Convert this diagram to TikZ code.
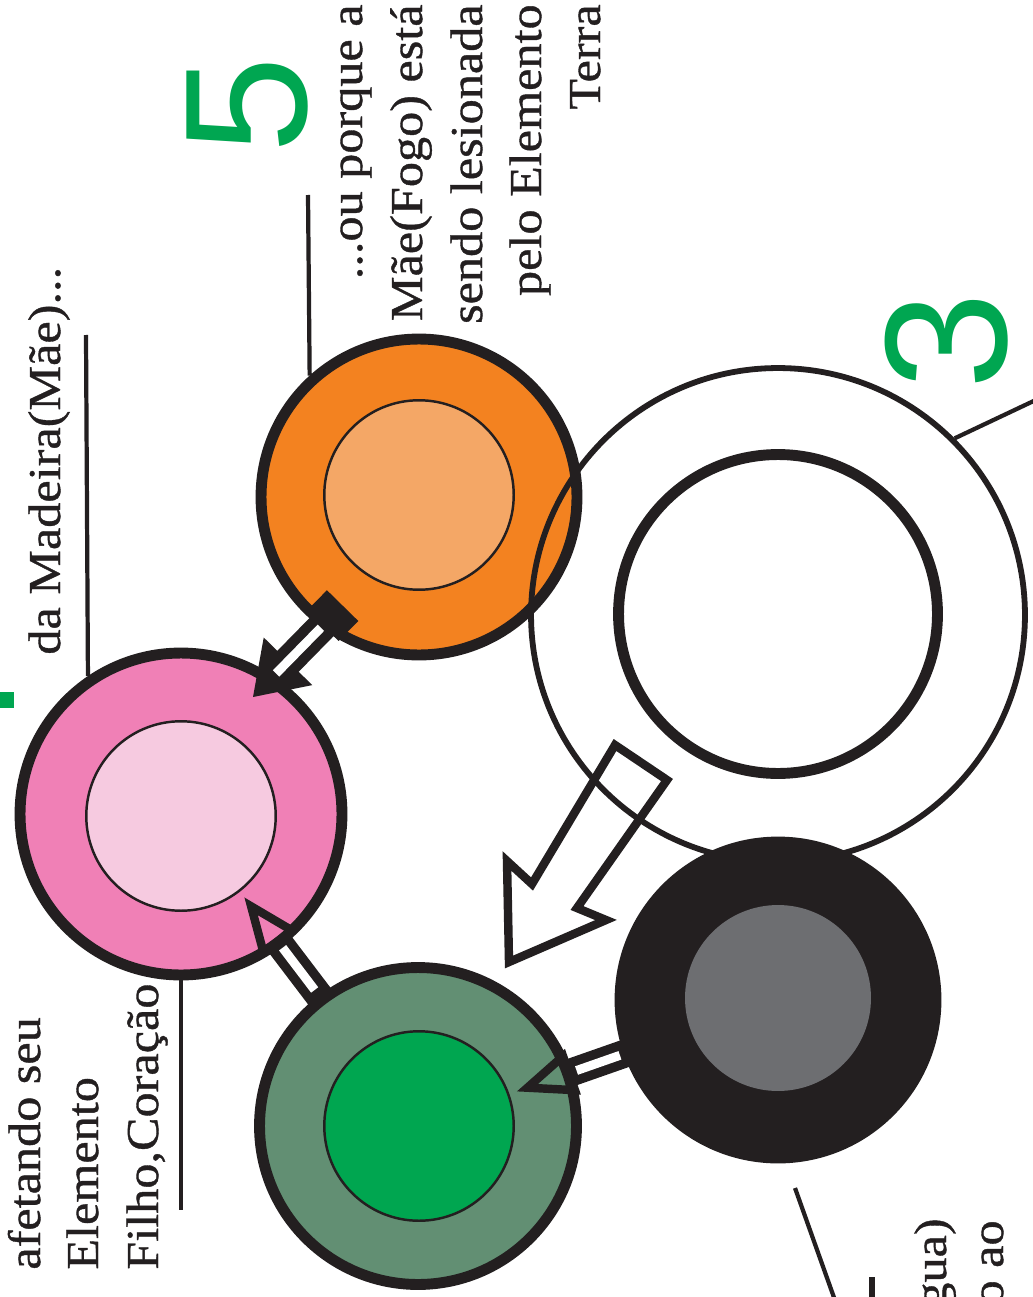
\documentclass[tikz,border=0pt]{standalone}
\usepackage{fontspec}
\setmainfont{Liberation Serif}[FakeStretch=1.1, FakeBold=0.8]
\newfontfamily\digitfont{Liberation Sans}
\usetikzlibrary{calc}
\definecolor{orgout}{RGB}{243,130,32}
\definecolor{orgin}{RGB}{244,167,102}
\definecolor{pnkout}{RGB}{240,128,182}
\definecolor{pnkin}{RGB}{246,202,224}
\definecolor{grnout}{RGB}{98,143,115}
\definecolor{grnin}{RGB}{0,166,80}
\definecolor{blk}{RGB}{35,31,32}
\definecolor{gry}{RGB}{109,110,113}
\definecolor{digitgreen}{RGB}{0,166,81}
\tikzset{
  outerc/.style={circle, draw=blk, line width=6.2pt, inner sep=0pt},
  innerc/.style={circle, draw=blk, line width=1.4pt, inner sep=0pt},
  lbl/.style={rotate=90, inner sep=0pt, text=blk, font=\fontsize{26}{33}\selectfont},
  leader/.style={draw=blk, line width=2.4pt},
  digitlbl/.style={rotate=90, inner sep=0pt, text=digitgreen, font=\digitfont\fontsize{99}{99}\selectfont},
  headline/.style={draw=blk, line width=4.8pt, line join=miter},
  shaftblack/.style={draw=blk, line width=15.9pt},
  shaftwhite/.style={draw=white, line width=5.1pt},
}
\begin{document}
\begin{tikzpicture}[x=0.02cm, y=-0.02cm]
\useasboundingbox (0,0) rectangle (1033,1297);
\clip (0,0) rectangle (1033,1297);
\fill[white] (0,0) rectangle (1033,1297);

% circles
\node[outerc, fill=orgout, minimum size=6.32cm] (orange) at (419,497) {};
\node[innerc, fill=orgin, minimum size=3.79cm] (orangein) at (419,495) {};
\node[outerc, fill=pnkout, minimum size=6.44cm] (pink) at (181,814) {};
\node[innerc, fill=pnkin, minimum size=3.79cm] (pinkin) at (181,816) {};
\node[outerc, fill=grnout, minimum size=6.34cm] (green) at (418,1126) {};
\node[innerc, fill=grnin, minimum size=3.79cm] (greenin) at (419,1126) {};
\node[circle, draw=blk, line width=3.3pt, inner sep=0pt, minimum size=9.88cm] (ring) at (778,615) {};
\node[outerc, minimum size=6.38cm] (ringin) at (778,614) {};
\node[outerc, fill=blk, minimum size=6.32cm] (black) at (778,1000) {};
\node[circle, fill=gry, inner sep=0pt, minimum size=3.72cm] (blackin) at (778,998) {};

% arrow orange -> pink
\coordinate (aTip) at (253,697);
\coordinate (aTail) at (342.6,605.6);
\coordinate (aBase) at ($(aTip)!1.0cm!(aTail)$);
\fill[blk] (aTip) -- ($(aBase)!0.68cm!90:(aTail)$) -- ($(aBase)!0.68cm!-90:(aTail)$) -- cycle;
\draw[blk, line width=17pt] ($(aTip)!0.9cm!(aTail)$) -- ($(aTip)!2.2cm!(aTail)$);
\draw[blk, line width=25pt] ($(aTip)!2.0cm!(aTail)$) -- (aTail);
\draw[shaftwhite] ($(aTip)!0.66cm!(aTail)$) -- ($(aTip)!1.94cm!(aTail)$);

% arrow green -> pink
\coordinate (bTip) at ($(pink.center)!2.32cm!(green.center)$);
\coordinate (bBase) at ($(pink.center)!3.2cm!(green.center)$);
\draw[shaftblack] ($(pink.center)!3.16cm!(green.center)$) -- ($(pink.center)!4.64cm!(green.center)$);
\draw[shaftwhite] ($(pink.center)!3.36cm!(green.center)$) -- ($(pink.center)!4.42cm!(green.center)$);
\draw[headline] (bTip) -- ($(bBase)!0.36cm!90:(green.center)$) -- ($(bBase)!0.36cm!-90:(green.center)$) -- cycle;

% arrow black -> green
\coordinate (cTip) at ($(green.center)!2.32cm!(black.center)$);
\coordinate (cBase) at ($(green.center)!3.2cm!(black.center)$);
\draw[shaftblack] ($(green.center)!3.16cm!(black.center)$) -- ($(green.center)!4.5cm!(black.center)$);
\draw[shaftwhite] ($(green.center)!3.36cm!(black.center)$) -- ($(green.center)!4.28cm!(black.center)$);
\draw[headline] (cTip) -- ($(cBase)!0.36cm!90:(black.center)$) -- ($(cBase)!0.36cm!-90:(black.center)$) -- cycle;

% big hollow arrow ring -> green
\draw[headline] (509,962) -- (507,861) -- (532,884) -- (615,745) -- (667,780) -- (577,908) -- (606,920) -- cycle;

% leader lines
\coordinate (l1) at (86,335);
\draw[leader] (l1) -- (pink.124.8);
\coordinate (l5) at (308,195);
\draw[leader] (l5) -- (orange.132.8);
\coordinate (lf) at (181,1210);
\draw[leader] (pink.south) -- (lf);
\coordinate (l3) at (1040,398);
\draw[leader] (ring.45.8) -- (l3);
\coordinate (lw1) at (795,1188);
\coordinate (lw2) at (842,1320);
\draw[leader] (lw1) -- (lw2);
\coordinate (lw3) at (872,1277);
\coordinate (lw4) at (872,1305);
\draw[draw=blk, line width=3.4pt] (lw3) -- (lw4);

% texts
\node[lbl, anchor=base west] (t1) at (60,655) {da Madeira(Mãe)...};
\node[lbl, anchor=base east] (t2a) at (362,4) {...ou porque a};
\node[lbl, anchor=base east] (t2b) at (422,4) {Mãe(Fogo) está};
\node[lbl, anchor=base east] (t2c) at (482,4) {sendo lesionada};
\node[lbl, anchor=base east] (t2d) at (541,4) {pelo Elemento};
\node[lbl, anchor=base east] (t2e) at (600,4) {Terra};
\node[lbl, anchor=base west] (t3a) at (40,1270) {afetando seu};
\node[lbl, anchor=base west] (t3b) at (98,1270) {Elemento};
\node[lbl, anchor=base west] (t3c) at (158,1270) {Filho,Coração};
\node[lbl, anchor=base east] (t4a) at (946,1218) {gua)};
\node[lbl, anchor=base east] (t4b) at (1003,1220) {o ao};

% digits
\node[digitlbl] (n5) at (248,105) {5};
\node[digitlbl] (n3) at (947,341) {3};
\fill[digitgreen] (0,692) rectangle (14,708);
\end{tikzpicture}
\end{document}
